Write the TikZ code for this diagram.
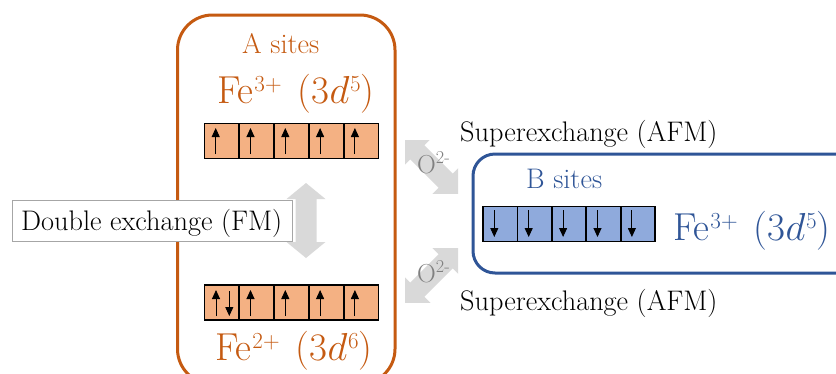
\RequirePackage{fix-cm}
\documentclass[tikz,border=0pt]{standalone}
\usetikzlibrary{arrows.meta}
\definecolor{orangeC}{HTML}{C55A11}
\definecolor{orangeF}{HTML}{F4B183}
\definecolor{blueC}{HTML}{2F5597}
\definecolor{blueF}{HTML}{8FAADC}
\definecolor{arrowgray}{HTML}{D9D9D9}
\definecolor{ogray}{HTML}{808080}
\definecolor{boxgray}{HTML}{A6A6A6}
\newcommand{\dblarrowpath}[4]{(-#1,0) -- (-#1+#2,#3) -- (-#1+#2,#4) -- (#1-#2,#4) -- (#1-#2,#3) -- (#1,0) -- (#1-#2,-#3) -- (#1-#2,-#4) -- (-#1+#2,-#4) -- (-#1+#2,-#3) -- cycle}
\newcommand{\supsmall}[1]{\raisebox{12pt}{\fontsize{23}{24}\selectfont #1}}
\newcommand{\ionlabel}[2]{Fe\kern1pt\supsmall{#1}\hspace{0.42em}(3$d$\kern0.5pt\supsmall{#2})}
\tikzset{
  cellbox/.style={draw=black, line width=1.8pt, fill=#1},
  spin/.style={draw=black, line width=0.9pt, -{Triangle[width=8pt,length=9pt]}},
  lbl/.style={inner sep=0pt, anchor=base west, font=\fontsize{28.3}{32}\selectfont},
  big/.style={inner sep=0pt, anchor=base west, font=\fontsize{39}{44}\selectfont},
  olbl/.style={inner sep=0pt, anchor=base west, text=ogray, font=\fontsize{26}{30}\selectfont},
  blockarrow/.style={fill=arrowgray, draw=none},
}
\begin{document}
\begin{tikzpicture}[x=1pt,y=-1pt]
\useasboundingbox (0,0) rectangle (836,373);
\clip (0,0) rectangle (836,373);
% site boxes
\draw[orangeC, line width=3pt, rounded corners=35pt] (177.5,15) rectangle (395,384);
\coordinate (abox) at (286,200);
\draw[blueC, line width=3pt, rounded corners=22pt] (473,154) rectangle (860,273);
\coordinate (bbox) at (650,213);
% orbital cells
\foreach \i in {0,...,4} {
  \draw[cellbox=orangeF] (204.5+\i*34.8,123.5) rectangle ++(34.8,35);
  \draw[spin] (215.7+\i*34.8,154) -- ++(0,-26);
  \draw[cellbox=orangeF] (204.5+\i*34.8,285) rectangle ++(34.8,35);
  \draw[cellbox=blueF] (483+\i*34.4,206.5) rectangle ++(34.4,35);
  \draw[spin] (494.3+\i*34.4,210) -- ++(0,27);
}
\foreach \i in {1,...,4} {
  \draw[spin] (215.7+\i*34.8,316) -- ++(0,-26);
}
\draw[spin] (216,316) -- ++(0,-26);
\draw[spin] (229.3,291) -- ++(0,25);
% texts
\node[lbl, text=orangeC] (asites) at (242,53) {A sites};
\node[big, text=orangeC] (afe3) at (217,103) {\ionlabel{3+}{5}};
\node[big, text=orangeC] (afe2) at (215,360) {\ionlabel{2+}{6}};
\node[lbl, text=blueC] (bsites) at (526,188) {B sites};
\node[big, text=blueC] (bfe3) at (673,240) {\ionlabel{3+}{5}};
\node[lbl] (sx1) at (460,141) {Superexchange (AFM)};
\node[lbl] (sx2) at (460,310) {Superexchange (AFM)};
% double exchange
\draw[boxgray, fill=white, line width=1pt] (12.5,200.5) rectangle (292,241.5);
\node[lbl] (dex) at (21,230) {Double exchange (FM)};
\fill[blockarrow, shift={(306,220.5)}, rotate=90] \dblarrowpath{37.5}{16}{19.5}{10.5};
% superexchange arrows
\begin{scope}
  \clip (405,140) rectangle (458,193);
  \fill[blockarrow, shift={(431.5,166.5)}, rotate=-45] \dblarrowpath{45}{25}{22}{10};
\end{scope}
\begin{scope}
  \clip (405,248.5) rectangle (458,302.5);
  \fill[blockarrow, shift={(431.5,275.5)}, rotate=45] \dblarrowpath{45}{25}{22}{10};
\end{scope}
\node[olbl] (o1) at (417,173) {O\textsuperscript{2-}};
\node[olbl] (o2) at (417,282) {O\textsuperscript{2-}};
\end{tikzpicture}
\end{document}
